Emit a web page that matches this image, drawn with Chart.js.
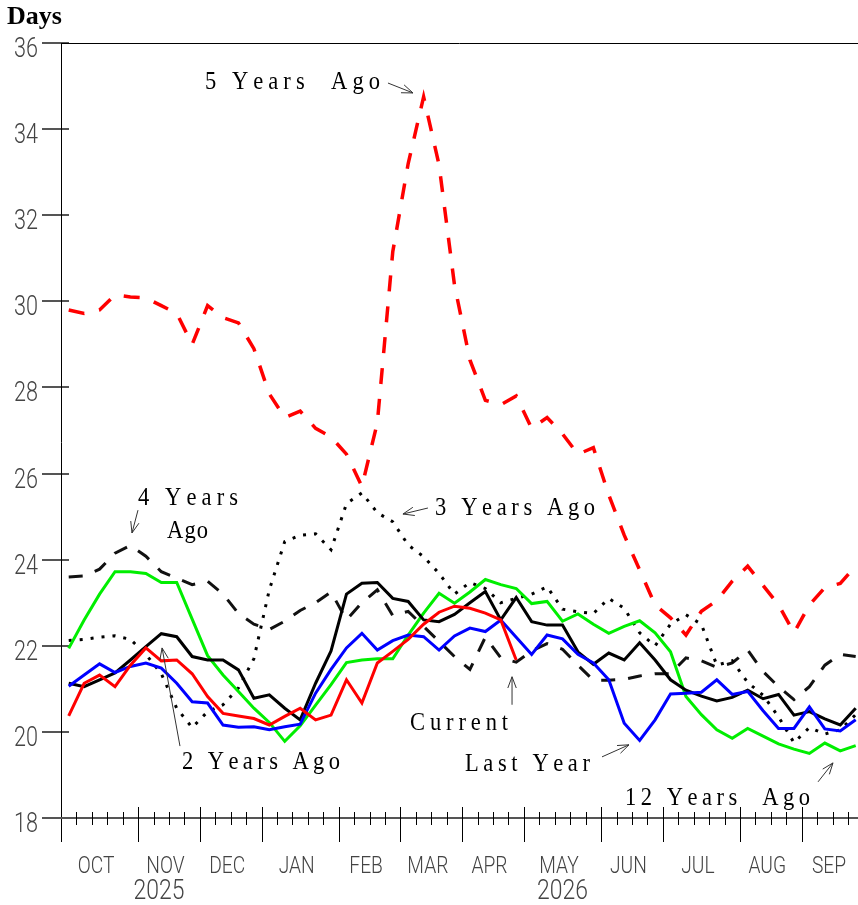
<!DOCTYPE html>
<html>
<head>
<meta charset="utf-8">
<script src="https://cdn.jsdelivr.net/npm/chart.js@4.4.1/dist/chart.umd.min.js"></script>
<style>
  html, body { margin: 0; padding: 0; background: #fff; }
  canvas { display: block; }
</style>
</head>
<body>
<canvas id="chart" width="858" height="905"></canvas>
<script>
// weekly values, first week of Oct to last week of Sep
const monthNames = ['OCT', 'NOV', 'DEC', 'JAN', 'FEB', 'MAR', 'APR', 'MAY', 'JUN', 'JUL', 'AUG', 'SEP'];
const monthStarts = [0, 5, 9, 13, 18, 22, 26, 30, 35, 39, 44, 48, 52];
const yearLabels = ['2025', '2026'];
const yearMonths = [1, 7];
const yTicks = [18, 20, 22, 24, 26, 28, 30, 32, 34, 36];

const current = [20.37, 21.13, 21.32, 21.05, 21.55, 21.95, 21.65, 21.67, 21.35, 20.82,
  20.43, 20.37, 20.31, 20.16, 20.36, 20.55, 20.28, 20.39, 21.21, 20.67,
  21.6, 21.87, 22.15, 22.5, 22.78, 22.92, 22.87, 22.76, 22.6, 21.67];
const lastYear = [21.06, 21.32, 21.58, 21.38, 21.52, 21.6, 21.48, 21.13, 20.7, 20.67,
  20.16, 20.11, 20.12, 20.05, 20.12, 20.18, 20.9, 21.45, 21.95, 22.29,
  21.9, 22.12, 22.25, 22.21, 21.9, 22.23, 22.41, 22.33, 22.6, 22.2,
  21.8, 22.25, 22.16, 21.8, 21.6, 21.21, 20.2, 19.8, 20.28, 20.88,
  20.9, 20.92, 21.21, 20.87, 20.94, 20.49, 20.08, 20.08, 20.58, 20.07,
  20.02, 20.28];
const twoYearsAgo = [21.13, 21.05, 21.21, 21.37, 21.67, 21.98, 22.28, 22.21, 21.75, 21.67,
  21.67, 21.44, 20.78, 20.86, 20.55, 20.28, 21.13, 21.88, 23.2, 23.45,
  23.47, 23.1, 23.03, 22.6, 22.56, 22.73, 23.0, 23.26, 22.6, 23.12,
  22.56, 22.48, 22.48, 21.86, 21.57, 21.83, 21.67, 22.07, 21.67, 21.21,
  20.97, 20.83, 20.72, 20.8, 20.97, 20.77, 20.87, 20.39, 20.47, 20.3,
  20.16, 20.55];
const threeYearsAgo = [22.12, 22.15, 22.2, 22.23, 22.15, 21.8, 21.35, 20.55, 20.1, 20.47,
  20.63, 21.02, 21.7, 23.3, 24.42, 24.57, 24.6, 24.23, 25.3, 25.55,
  25.09, 24.88, 24.34, 24.07, 23.68, 23.2, 23.47, 23.33, 23.0, 23.1,
  23.2, 23.37, 22.85, 22.79, 22.75, 23.1, 22.87, 22.3, 22.0, 22.5,
  22.72, 22.5, 21.55, 21.65, 21.15, 20.85, 20.35, 19.75, 20.1, 19.95,
  20.05, 20.4];
const fourYearsAgo = [23.6, 23.62, 23.78, 24.15, 24.33, 24.08, 23.72, 23.57, 23.42, 23.5,
  23.2, 22.75, 22.5, 22.38, 22.57, 22.82, 23.0, 23.25, 22.6, 23.0,
  23.3, 22.7, 22.8, 22.45, 22.1, 21.75, 21.45, 22.2, 21.72, 21.62,
  21.88, 22.05, 21.92, 21.55, 21.2, 21.2, 21.22, 21.3, 21.35, 21.35,
  21.72, 21.65, 21.5, 21.6, 21.9, 21.4, 21.05, 20.75, 21.05, 21.55,
  21.8, 21.75];
const fiveYearsAgo = [29.8, 29.72, 29.8, 30.15, 30.1, 30.08, 29.9, 29.72, 29.0, 29.9,
  29.62, 29.5, 28.9, 27.85, 27.3, 27.45, 27.05, 26.85, 26.45, 25.7,
  27.18, 31.15, 33.2, 34.75, 33.17, 30.38, 28.64, 27.7, 27.6, 27.8,
  27.05, 27.3, 26.92, 26.45, 26.6, 25.5, 24.57, 23.76, 22.95, 22.65,
  22.25, 22.8, 23.05, 23.5, 23.85, 23.4, 22.95, 22.3, 22.95, 23.35,
  23.45, 23.85];
const twelveYearsAgo = [21.94, 22.6, 23.2, 23.72, 23.72, 23.68, 23.47, 23.47, 22.62, 21.77,
  21.32, 20.94, 20.55, 20.22, 19.78, 20.14, 20.62, 21.1, 21.61, 21.67,
  21.7, 21.7, 22.25, 22.76, 23.22, 22.99, 23.25, 23.54, 23.42, 23.33,
  22.98, 23.03, 22.57, 22.74, 22.5, 22.29, 22.45, 22.58, 22.3, 21.86,
  20.82, 20.4, 20.05, 19.85, 20.08, 19.9, 19.72, 19.6, 19.5, 19.74,
  19.56, 19.68];

// labels and arrows placed in chart units (week, days)
const notes = [
  { text: '5 Years  Ago', x0: 9.33, x1: 20.67, y: 34.93, arrow: [21.19, 35.07, 22.81, 34.84] },
  { text: '4 Years', x0: 4.99, x1: 11.47, y: 25.27, arrow: [4.99, 25.15, 4.6, 24.62] },
  { text: 'Ago', x0: 6.87, x1: 9.53, y: 24.5 },
  { text: '3 Years Ago', x0: 24.24, x1: 34.61, y: 25.04, arrow: [23.78, 25.2, 22.16, 25.06] },
  { text: '2 Years Ago', x0: 7.84, x1: 18.08, y: 19.14, arrow: [7.71, 19.67, 6.55, 21.95] },
  { text: 'Current', x0: 22.62, x1: 28.97, y: 20.05, arrow: [29.23, 20.63, 29.23, 21.28] },
  { text: 'Last Year', x0: 26.18, x1: 34.28, y: 19.09, arrow: [35.06, 19.42, 36.81, 19.7] },
  { text: '12 Years  Ago', x0: 36.55, x1: 48.54, y: 18.3, arrow: [49.06, 18.84, 50.03, 19.28] }
];

const toPoints = vals => vals.map((v, i) => ({ x: i + 0.5, y: v }));

function squeezedText(ctx, text, x, y, font, sx, align, color) {
  ctx.save();
  ctx.font = font;
  ctx.fillStyle = color;
  ctx.textAlign = 'left';
  ctx.textBaseline = 'alphabetic';
  const w = ctx.measureText(text).width * sx;
  const left = align === 'right' ? x - w : align === 'center' ? x - w / 2 : x;
  ctx.translate(left, y);
  ctx.scale(sx, 1);
  ctx.fillText(text, 0, 0);
  ctx.restore();
}

function spacedText(ctx, text, x, y, width, font, sx) {
  ctx.save();
  ctx.font = font;
  ctx.fillStyle = '#000';
  ctx.textBaseline = 'alphabetic';
  const chars = [...text];
  const natural = chars.reduce((s, c) => s + ctx.measureText(c).width, 0);
  const last = ctx.measureText(chars[chars.length - 1]).width;
  const gap = (width / sx - natural) / (chars.length - 1);
  ctx.translate(x, y);
  ctx.scale(sx, 1);
  let cx = 0;
  chars.forEach(c => {
    ctx.fillText(c, cx, 0);
    cx += ctx.measureText(c).width + gap;
  });
  ctx.restore();
}

function arrow(ctx, x1, y1, x2, y2) {
  const a = Math.atan2(y2 - y1, x2 - x1);
  const len = 12, spread = 0.36;
  ctx.beginPath();
  ctx.moveTo(x1, y1);
  ctx.lineTo(x2, y2);
  ctx.moveTo(x2 - len * Math.cos(a - spread), y2 - len * Math.sin(a - spread));
  ctx.lineTo(x2, y2);
  ctx.lineTo(x2 - len * Math.cos(a + spread), y2 - len * Math.sin(a + spread));
  ctx.stroke();
}

const frame = {
  id: 'frame',
  beforeDatasetsDraw(chart) {
    const { ctx, chartArea: area, scales: { x, y } } = chart;
    ctx.save();
    const left = Math.round(area.left) + 0.5;
    const bottom = Math.round(area.bottom);

    // y ticks and labels
    ctx.strokeStyle = '#555';
    ctx.lineWidth = 2;
    yTicks.forEach(t => {
      const py = Math.round(y.getPixelForValue(t));
      ctx.beginPath();
      ctx.moveTo(42, py);
      ctx.lineTo(area.left + 8, py);
      ctx.stroke();
      squeezedText(ctx, String(t), 38, py + 13.5, '300 27px Roboto, "DejaVu Sans", sans-serif', 0.8, 'right', '#444');
    });

    // top border and left axis
    ctx.strokeStyle = '#000';
    ctx.lineWidth = 1;
    ctx.beginPath();
    ctx.moveTo(area.left, Math.round(area.top) + 0.5);
    ctx.lineTo(area.right, Math.round(area.top) + 0.5);
    ctx.moveTo(left, area.top);
    ctx.lineTo(left, bottom + 24);
    ctx.stroke();

    // bottom axis
    ctx.strokeStyle = '#555';
    ctx.lineWidth = 2;
    ctx.beginPath();
    ctx.moveTo(42, bottom);
    ctx.lineTo(area.right, bottom);
    ctx.stroke();

    // week ticks, month ticks
    ctx.strokeStyle = '#000';
    ctx.lineWidth = 1;
    ctx.beginPath();
    for (let w = 1; w < 52; w++) {
      const px = Math.round(x.getPixelForValue(w)) + 0.5;
      if (px > area.right) break;
      if (monthStarts.includes(w)) {
        ctx.moveTo(px, bottom - 11);
        ctx.lineTo(px, bottom + 24);
      } else {
        ctx.moveTo(px, bottom - 6);
        ctx.lineTo(px, bottom + 7);
      }
    }
    ctx.stroke();

    // month and year labels
    monthNames.forEach((m, i) => {
      const cx = x.getPixelForValue((monthStarts[i] + monthStarts[i + 1]) / 2) - 3.5;
      squeezedText(ctx, m, cx, bottom + 55, '300 24px Roboto, "DejaVu Sans", sans-serif', 0.8, 'center', '#444');
    });
    yearLabels.forEach((yr, i) => {
      const mi = yearMonths[i];
      const cx = x.getPixelForValue((monthStarts[mi] + monthStarts[mi + 1]) / 2) - (i === 0 ? 10 : 0);
      squeezedText(ctx, yr, cx, bottom + 81, '300 27px Roboto, "DejaVu Sans", sans-serif', 0.85, 'center', '#444');
    });

    // axis title
    ctx.font = 'bold 26px "Liberation Serif", "Times New Roman", serif';
    ctx.fillStyle = '#000';
    ctx.textAlign = 'left';
    ctx.textBaseline = 'alphabetic';
    ctx.fillText('Days', 7, 24);
    ctx.restore();
  },
  afterDatasetsDraw(chart) {
    const { ctx, scales: { x, y } } = chart;
    ctx.save();
    ctx.strokeStyle = '#333';
    ctx.lineWidth = 1;
    notes.forEach(n => {
      const x0 = x.getPixelForValue(n.x0), x1 = x.getPixelForValue(n.x1);
      spacedText(ctx, n.text, x0, y.getPixelForValue(n.y), x1 - x0, '25px "Liberation Serif", "Times New Roman", serif', 0.9);
      if (n.arrow) {
        const [ax, ay, bx, by] = n.arrow;
        arrow(ctx, x.getPixelForValue(ax), y.getPixelForValue(ay), x.getPixelForValue(bx), y.getPixelForValue(by));
      }
    });
    ctx.restore();
  }
};

const line = (label, vals, color, extra) => Object.assign({
  label,
  data: toPoints(vals),
  borderColor: color,
  borderWidth: 3,
  pointRadius: 0,
  fill: false,
  tension: 0,
  borderCapStyle: 'butt'
}, extra || {});

new Chart(document.getElementById('chart'), {
  type: 'line',
  data: {
    datasets: [
      line('Current', current, '#ff0000'),
      line('Last Year', lastYear, '#0000ff'),
      line('2 Years Ago', twoYearsAgo, '#000000'),
      line('12 Years Ago', twelveYearsAgo, '#00ee00'),
      line('3 Years Ago', threeYearsAgo, '#000000', { borderDash: [3, 8] }),
      line('4 Years Ago', fourYearsAgo, '#111111', { borderDash: [14, 13] }),
      line('5 Years Ago', fiveYearsAgo, '#ff0000', { borderDash: [16, 15], borderWidth: 3.5 })
    ]
  },
  options: {
    responsive: false,
    animation: false,
    events: [],
    layout: { padding: { top: 43, left: 0, right: 0, bottom: 0 } },
    plugins: { legend: { display: false }, tooltip: { enabled: false } },
    scales: {
      x: {
        type: 'linear', min: 0, max: 51.65,
        grid: { display: false }, border: { display: false }, ticks: { display: false },
        afterFit: s => { s.height = 87; }
      },
      y: {
        min: 18, max: 36,
        grid: { display: false }, border: { display: false }, ticks: { display: false },
        afterFit: s => { s.width = 61; }
      }
    }
  },
  plugins: [frame]
});
</script>
</body>
</html>
